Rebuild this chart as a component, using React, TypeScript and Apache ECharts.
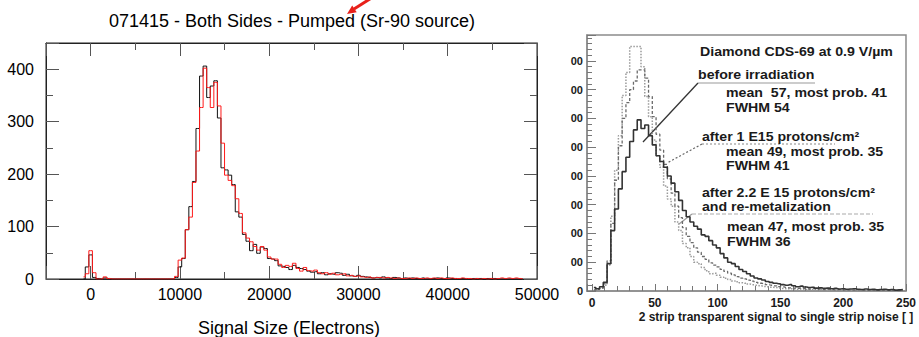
import React, { useEffect, useRef } from "react";
import * as echarts from "echarts";

const FONT = '"Liberation Sans", Arial, Helvetica, sans-serif';

// ---------- Left panel data ----------
const LEFT_TITLE = "071415 - Both Sides - Pumped (Sr-90 source)";
const LEFT_X_TITLE = "Signal Size (Electrons)";
const LEFT_X_MIN = -5000;
const LEFT_X_MAX = 50000;
const LEFT_Y_MAX = 450;
const LEFT_Y_STEP = 100;
const LEFT_BIN_START = -800; // centre of first bin (electrons)
const LEFT_BIN_WIDTH = 400;

const blackCounts = [
  0, 23, 46, 3, 1, 0, 2, 1, 0, 0,
  0, 0, 0, 0, 0, 0, 0, 0, 0, 0,
  0, 0, 0, 0, 0, 0, 3, 23, 39, 94,
  138, 186, 287, 387, 406, 346, 368, 378, 307, 212,
  208, 198, 180, 128, 118, 85, 72, 54, 66, 49,
  61, 58, 39, 38, 35, 25, 24, 22, 18, 26,
  22, 20, 18, 15, 13, 14, 10, 12, 8, 10,
  9, 12, 11, 7, 9, 6, 5, 7, 5, 4,
  3, 2, 3, 2, 4, 2, 1, 3, 2, 1,
  2, 1, 2, 1, 1, 2, 0, 1, 1, 2,
  1, 0, 2, 1, 1, 0, 1, 1, 0, 1,
  1, 1, 0, 1, 1, 1, 0, 0, 0, 0,
  0, 0, 0, 0,
];

const redCounts = [
  4, 10, 54, 12, 0, 0, 4, 1, 0, 0,
  0, 0, 0, 0, 0, 0, 0, 0, 0, 0,
  0, 0, 0, 0, 0, 0, 5, 36, 40, 94,
  118, 184, 244, 327, 402, 365, 327, 375, 330, 259,
  198, 188, 178, 153, 125, 88, 78, 71, 62, 55,
  62, 55, 42, 38, 38, 28, 22, 26, 24, 30,
  20, 15, 22, 16, 15, 17, 12, 10, 12, 9,
  11, 8, 9, 10, 6, 7, 5, 6, 4, 3,
  4, 2, 3, 3, 2, 3, 2, 1, 2, 1,
  1, 2, 1, 2, 1, 1, 2, 1, 2, 1,
  2, 1, 1, 2, 1, 1, 2, 1, 1, 0,
  1, 0, 1, 0, 1, 0, 1, 2, 1, 2,
  1, 2, 1, 0,
];

// ---------- Right panel data ----------
const RIGHT_X_TITLE = "2 strip transparent signal to single strip noise [ ]";
const RIGHT_X_MIN = -4;
const RIGHT_X_MAX = 250;
const RIGHT_Y_MAX = 890;
const RIGHT_Y_STEP = 100;
const RIGHT_BIN_START = 1.5;
const RIGHT_BIN_WIDTH = 3;

const beforeIrradiation = [
  12, 8, 15, 30, 95, 210, 285, 355, 415, 465,
  520, 560, 595, 565, 577, 540, 508, 470, 450, 430,
  400, 375, 345, 315, 280, 258, 240, 225, 215, 195,
  190, 175, 160, 150, 130, 115, 100, 95, 85, 75,
  68, 60, 52, 45, 42, 38, 33, 30, 27, 25,
  22, 20, 22, 18, 15, 17, 14, 12, 13, 10,
  11, 9, 10, 8, 9, 7, 8, 6, 7, 8,
  6, 5, 7, 5, 6, 4, 5, 6, 4, 5,
  3, 4, 5,
];

const after1E15 = [
  3, 6, 10, 25, 105, 235, 385, 505, 600, 655,
  700, 730, 769, 769, 740, 676, 606, 545, 490, 440,
  390, 340, 295, 255, 220, 190, 168, 150, 135, 120,
  110, 98, 90, 84, 75, 68, 62, 56, 50, 45,
  42, 38, 34, 30, 27, 25, 22, 20, 18, 15,
  14, 12, 11, 10, 9, 10, 8, 7, 8, 6,
  7, 5, 6, 5, 4, 5, 4, 3, 4, 3,
  4, 3, 2, 3, 2, 3, 2, 2, 3, 2,
  2, 1, 2,
];

const after22E15 = [
  5, 8, 10, 20, 90, 260, 420, 540, 680, 760,
  850, 850, 850, 780, 676, 606, 525, 470, 430, 365,
  320, 295, 240, 210, 165, 150, 120, 100, 95, 82,
  70, 60, 62, 55, 48, 44, 40, 35, 32, 29,
  27, 24, 22, 20, 18, 16, 15, 13, 12, 10,
  9, 8, 8, 7, 6, 7, 5, 6, 5, 4,
  5, 4, 3, 4, 3, 3, 2, 3, 2, 3,
  2, 2, 1, 2, 2, 1, 2, 1, 1, 2,
  1, 1, 1,
];

const RIGHT_NOTES = [
  "Diamond CDS-69 at 0.9 V/\u00b5m",
  "before irradiation",
  "mean  57, most prob. 41",
  "FWHM 54",
  "after 1 E15 protons/cm\u00b2",
  "mean 49, most prob. 35",
  "FWHM 41",
  "after 2.2 E 15 protons/cm\u00b2",
  "and re-metalization",
  "mean 47, most prob. 35",
  "FWHM 36",
];

const toPairs = (counts: number[], start: number, width: number) =>
  counts.map((c, i) => [start + i * width, c]);

export default function App() {
  const ref = useRef<HTMLDivElement>(null);

  useEffect(() => {
    if (!ref.current) return;
    const chart = echarts.init(ref.current, undefined, { renderer: "svg" });

    const leftTick = { color: "#555", width: 1 };
    const rightTick = { color: "#777", width: 1 };

    const noteLayout = [
      [700, 52],
      [698, 75],
      [726, 93],
      [726, 108],
      [702, 137],
      [726, 152],
      [726, 166],
      [702, 193],
      [702, 207],
      [727, 227],
      [727, 242],
    ];

    const notes = RIGHT_NOTES.map((t, i) => ({
      type: "text",
      x: noteLayout[i][0],
      y: noteLayout[i][1],
      scaleX: 1.18,
      z: 100,
      style: {
        text: t,
        fill: "#1a1a1a",
        fontSize: 12,
        lineHeight: 12,
        fontWeight: "bold",
        fontFamily: FONT,
        align: "left",
        textAlign: "left",
        verticalAlign: "middle",
        textVerticalAlign: "middle",
      },
    }));

    const plain = (v: number) => String(v);

    const option: any = {
      animation: false,
      backgroundColor: "#fff",
      grid: [
        {
          left: 46,
          top: 43,
          width: 491,
          height: 236,
          show: true,
          borderColor: "#222",
          borderWidth: 1,
          backgroundColor: "transparent",
        },
        {
          left: 587,
          top: 35,
          width: 323,
          height: 256,
          show: true,
          borderColor: "#8c8c8c",
          borderWidth: 1.5,
          backgroundColor: "transparent",
        },
      ],
      xAxis: [
        {
          gridIndex: 0,
          type: "value",
          min: LEFT_X_MIN,
          max: LEFT_X_MAX,
          position: "bottom",
          axisLine: { show: true, onZero: false, lineStyle: { color: "#222" } },
          axisTick: { show: true, inside: true, length: 13, lineStyle: leftTick },
          minorTick: { show: true, splitNumber: 2, length: 7, lineStyle: leftTick },
          splitLine: { show: false },
          axisLabel: {
            showMinLabel: false,
            color: "#000",
            fontSize: 16,
            fontFamily: FONT,
            margin: 7,
            formatter: plain,
          },
        },
        {
          gridIndex: 0,
          type: "value",
          min: LEFT_X_MIN,
          max: LEFT_X_MAX,
          position: "top",
          axisLine: { show: true, onZero: false, lineStyle: { color: "#222" } },
          axisTick: { show: true, inside: true, length: 13, lineStyle: leftTick },
          minorTick: { show: true, splitNumber: 2, length: 7, lineStyle: leftTick },
          splitLine: { show: false },
          axisLabel: { show: false },
        },
        {
          gridIndex: 1,
          type: "value",
          min: RIGHT_X_MIN,
          max: RIGHT_X_MAX,
          position: "bottom",
          axisLine: { show: true, onZero: false, lineStyle: { color: "#8c8c8c", width: 1.5 } },
          axisTick: { show: true, inside: true, length: 7, lineStyle: rightTick },
          minorTick: { show: true, splitNumber: 5, length: 5, lineStyle: rightTick },
          splitLine: { show: false },
          axisLabel: {
            showMinLabel: false,
            color: "#1a1a1a",
            fontSize: 12,
            fontWeight: "bold",
            fontFamily: FONT,
            margin: 6,
            formatter: plain,
          },
        },
      ],
      yAxis: [
        {
          gridIndex: 0,
          type: "value",
          min: 0,
          max: LEFT_Y_MAX,
          interval: LEFT_Y_STEP,
          position: "left",
          axisLine: { show: true, onZero: false, lineStyle: { color: "#222" } },
          axisTick: { show: true, inside: true, length: 13, lineStyle: leftTick },
          minorTick: { show: true, splitNumber: 2, length: 7, lineStyle: leftTick },
          splitLine: { show: false },
          axisLabel: {
            showMaxLabel: false,
            color: "#000",
            fontSize: 16,
            fontFamily: FONT,
            margin: 12,
            formatter: plain,
          },
        },
        {
          gridIndex: 0,
          type: "value",
          min: 0,
          max: LEFT_Y_MAX,
          interval: LEFT_Y_STEP,
          position: "right",
          axisLine: { show: true, onZero: false, lineStyle: { color: "#222" } },
          axisTick: { show: true, inside: true, length: 13, lineStyle: leftTick },
          minorTick: { show: true, splitNumber: 2, length: 7, lineStyle: leftTick },
          splitLine: { show: false },
          axisLabel: { show: false },
        },
        {
          gridIndex: 1,
          type: "value",
          min: 0,
          max: RIGHT_Y_MAX,
          interval: RIGHT_Y_STEP,
          position: "left",
          axisLine: { show: true, onZero: false, lineStyle: { color: "#8c8c8c", width: 1.5 } },
          axisTick: { show: true, inside: true, length: 9, lineStyle: rightTick },
          minorTick: { show: true, splitNumber: 5, length: 5, lineStyle: rightTick },
          splitLine: { show: false },
          axisLabel: {
            showMaxLabel: false,
            color: "#1a1a1a",
            fontSize: 11,
            fontWeight: "bold",
            fontFamily: FONT,
            margin: 4,
            formatter: (v: number) => (v === 0 ? "0" : "00"),
          },
        },
      ],
      series: [
        {
          type: "line",
          xAxisIndex: 0,
          yAxisIndex: 0,
          step: "middle",
          showSymbol: false,
          data: toPairs(blackCounts, LEFT_BIN_START, LEFT_BIN_WIDTH),
          lineStyle: { color: "#111", width: 1 },
          z: 2,
        },
        {
          type: "line",
          xAxisIndex: 0,
          yAxisIndex: 0,
          step: "middle",
          showSymbol: false,
          data: toPairs(redCounts, LEFT_BIN_START, LEFT_BIN_WIDTH),
          lineStyle: { color: "#ff1a1a", width: 1 },
          z: 3,
        },
        {
          type: "line",
          xAxisIndex: 2,
          yAxisIndex: 2,
          step: "middle",
          showSymbol: false,
          data: toPairs(after22E15, RIGHT_BIN_START, RIGHT_BIN_WIDTH),
          lineStyle: { color: "#9a9a9a", width: 1.5, type: "dotted" },
          z: 2,
        },
        {
          type: "line",
          xAxisIndex: 2,
          yAxisIndex: 2,
          step: "middle",
          showSymbol: false,
          data: toPairs(after1E15, RIGHT_BIN_START, RIGHT_BIN_WIDTH),
          lineStyle: { color: "#6a6a6a", width: 1.3, type: [3, 2] },
          z: 3,
        },
        {
          type: "line",
          xAxisIndex: 2,
          yAxisIndex: 2,
          step: "middle",
          showSymbol: false,
          data: toPairs(beforeIrradiation, RIGHT_BIN_START, RIGHT_BIN_WIDTH),
          lineStyle: { color: "#333", width: 1.6 },
          z: 4,
        },
      ],
      graphic: [
        {
          type: "text",
          x: 292,
          y: 21,
          style: {
            text: LEFT_TITLE,
            fill: "#000",
            fontSize: 18,
            fontFamily: FONT,
            align: "center",
            textAlign: "center",
            verticalAlign: "middle",
            textVerticalAlign: "middle",
          },
        },
        {
          type: "text",
          x: 289,
          y: 328,
          style: {
            text: LEFT_X_TITLE,
            fill: "#000",
            fontSize: 18,
            fontFamily: FONT,
            align: "center",
            textAlign: "center",
            verticalAlign: "middle",
            textVerticalAlign: "middle",
          },
        },
        {
          type: "line",
          shape: { x1: 373, y1: -3, x2: 354, y2: 9 },
          style: { stroke: "#e8201a", lineWidth: 3 },
        },
        {
          type: "polygon",
          shape: { points: [[347, 14], [356.7, 12.2], [352.2, 5.6]] },
          style: { fill: "#e8201a" },
        },
        {
          type: "text",
          x: 776,
          y: 317,
          style: {
            text: RIGHT_X_TITLE,
            fill: "#1a1a1a",
            fontSize: 12,
            fontWeight: "bold",
            fontFamily: FONT,
            align: "center",
            textAlign: "center",
            verticalAlign: "middle",
            textVerticalAlign: "middle",
          },
        },
        // annotation leader lines
        {
          type: "line",
          shape: { x1: 698, y1: 83, x2: 815, y2: 83 },
          style: { stroke: "#999", lineWidth: 1.2 },
        },
        {
          type: "line",
          shape: { x1: 698, y1: 83, x2: 643, y2: 142 },
          style: { stroke: "#333", lineWidth: 1.3 },
        },
        {
          type: "line",
          shape: { x1: 702, y1: 144, x2: 835, y2: 144 },
          style: { stroke: "#888", lineWidth: 1.2, lineDash: [2, 2] },
        },
        {
          type: "line",
          shape: { x1: 702, y1: 144, x2: 667, y2: 163 },
          style: { stroke: "#666", lineWidth: 1.2, lineDash: [2, 2] },
        },
        {
          type: "line",
          shape: { x1: 692, y1: 214, x2: 873, y2: 214 },
          style: { stroke: "#aaa", lineWidth: 1.2, lineDash: [4, 2] },
        },
        {
          type: "line",
          shape: { x1: 692, y1: 214, x2: 679, y2: 224 },
          style: { stroke: "#999", lineWidth: 1.2 },
        },
        ...notes,
      ],
    };

    chart.setOption(option);
    return () => chart.dispose();
  }, []);

  return (
    <div
      ref={ref}
      style={{ position: "absolute", left: 0, top: 0, width: 919, height: 337, background: "#fff" }}
    />
  );
}
